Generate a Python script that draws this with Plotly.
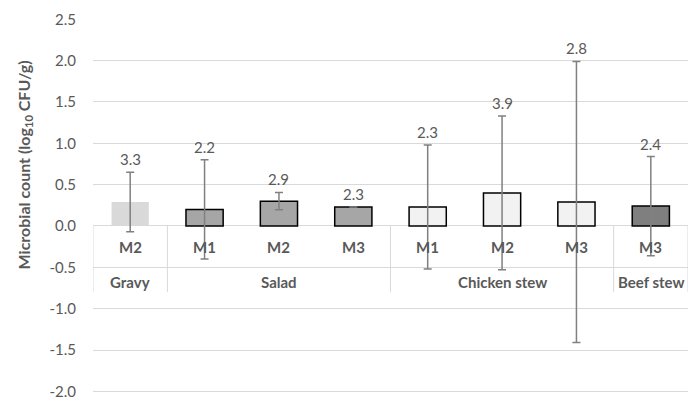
import plotly.graph_objects as go

groups = ["Gravy", "Salad", "Salad", "Salad", "Chicken stew", "Chicken stew", "Chicken stew", "Beef stew"]
methods = ["M2", "M1", "M2", "M3", "M1", "M2", "M3", "M3"]
means = [0.29, 0.20, 0.30, 0.23, 0.23, 0.40, 0.29, 0.24]
errors = [0.36, 0.60, 0.105, 0.0, 0.75, 0.93, 1.70, 0.60]
labels = ["3.3", "2.2", "2.9", "2.3", "2.3", "3.9", "2.8", "2.4"]
yticks = [-2.0, -1.5, -1.0, -0.5, 0.0, 0.5, 1.0, 1.5, 2.0, 2.5]

group_fill = {"Gravy": "#d9d9d9", "Salad": "#a6a6a6", "Chicken stew": "#f2f2f2", "Beef stew": "#7f7f7f"}
group_line = {"Gravy": 0, "Salad": 1.5, "Chicken stew": 1.5, "Beef stew": 1.5}

TXT = "#595959"
GRID = "#d9d9d9"
FONT = "Lato"
FS = 15

xs = list(range(len(means)))

fig = go.Figure()
fig.add_trace(go.Bar(
    x=xs, y=means, width=0.5,
    marker=dict(color=[group_fill[g] for g in groups],
                line=dict(color="#000000", width=[group_line[g] for g in groups])),
    error_y=dict(type="data", array=errors, visible=True, color="#808080", thickness=1.5, width=4),
    showlegend=False, hoverinfo="skip",
))

annotations = []
for x, m, e, lab in zip(xs, means, errors, labels):
    annotations.append(dict(x=x, y=m + e, xref="x", yref="y", text=lab, showarrow=False,
                            yanchor="bottom", yshift=2, font=dict(size=FS, color=TXT, family=FONT)))
for x, meth in zip(xs, methods):
    annotations.append(dict(x=x, y=-0.255, xref="x", yref="y", text="<b>%s</b>" % meth, showarrow=False,
                            font=dict(size=FS, color=TXT, family=FONT)))

# group spans
spans = []
for i, g in enumerate(groups):
    if spans and spans[-1][0] == g:
        spans[-1][2] = i
    else:
        spans.append([g, i, i])
shapes = []
for g, a, b in spans:
    annotations.append(dict(x=(a + b) / 2, y=-0.68, xref="x", yref="y", text="<b>%s</b>" % g, showarrow=False,
                            font=dict(size=FS, color=TXT, family=FONT)))
    shapes.append(dict(type="line", xref="x", yref="y", x0=a - 0.5, x1=a - 0.5, y0=0, y1=-0.8,
                       line=dict(color=GRID, width=1), layer="below"))
shapes.append(dict(type="line", xref="x", yref="y", x0=len(xs) - 0.5, x1=len(xs) - 0.5, y0=0, y1=-0.8,
                   line=dict(color=GRID, width=1), layer="below"))

annotations.append(dict(x=-0.115, y=0.61, xref="paper", yref="paper", xanchor="center", yanchor="middle",
                        text="<b>Microbial count (log<sub>10</sub> CFU/g)</b>", textangle=-90, showarrow=False,
                        font=dict(size=16, color=TXT, family=FONT)))

fig.update_layout(
    width=694, height=399,
    margin=dict(l=93, r=6, t=19, b=6),
    paper_bgcolor="white", plot_bgcolor="white",
    xaxis=dict(range=[-0.5, len(xs) - 0.5], showticklabels=False, showgrid=False, zeroline=False,
               showline=False, ticks="", automargin=False),
    yaxis=dict(range=[-2.02, 2.503], tickvals=yticks, ticktext=["%.1f" % v for v in yticks],
               showgrid=True, gridcolor=GRID, gridwidth=1, zeroline=True, zerolinecolor=GRID, zerolinewidth=1,
               showline=False, ticks="", ticklabelstandoff=16, automargin=False, ticklabeloverflow="allow",
               tickfont=dict(size=FS, color=TXT, family=FONT)),
    shapes=shapes, annotations=annotations,
    bargap=0.5,
)

fig.write_html("out.html", config={"displayModeBar": False},
               post_script="document.body.style.margin='0px';document.body.style.overflow='hidden';")
